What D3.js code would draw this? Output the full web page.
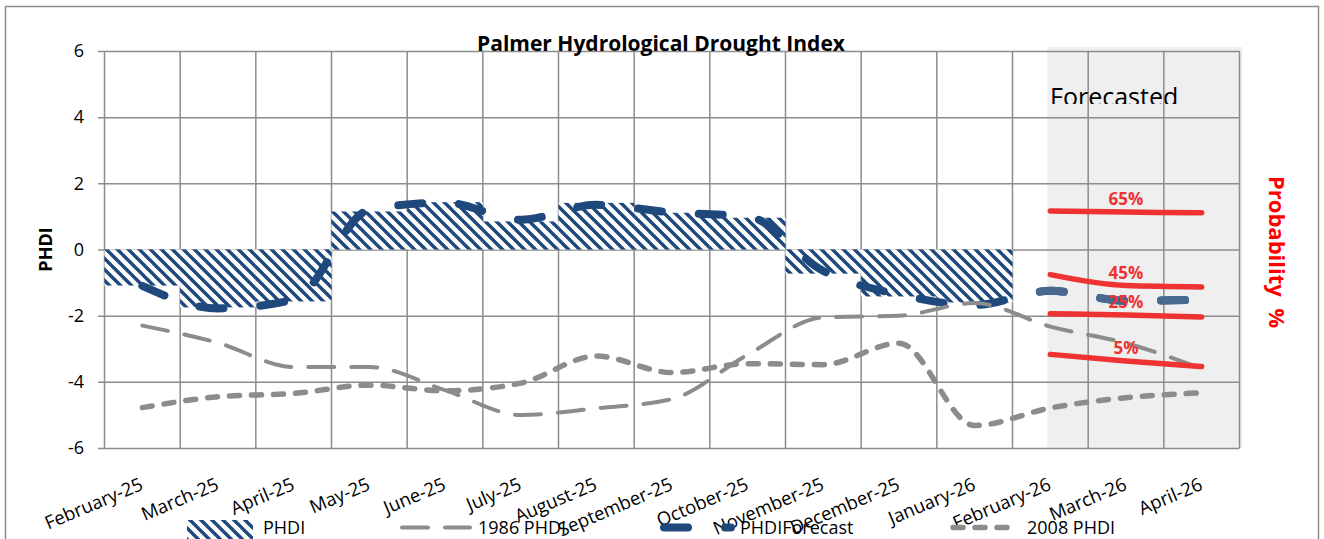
<!DOCTYPE html>
<html>
<head>
<meta charset="utf-8">
<script src="https://cdn.jsdelivr.net/npm/d3@7"></script>
<style>
  body { margin: 0; background: #fff; }
  text { font-family: "Open Sans", "Noto Sans", sans-serif; }
</style>
</head>
<body>
<svg id="chart"></svg>
<script>
var months = ["February-25", "March-25", "April-25", "May-25", "June-25", "July-25", "August-25",
  "September-25", "October-25", "November-25", "December-25", "January-26", "February-26",
  "March-26", "April-26"];

// observed PHDI (bars), no bars for the forecast months
var phdi = [-1.09, -1.75, -1.57, 1.15, 1.43, 0.85, 1.41, 1.11, 0.96, -0.73, -1.42, -1.6, null, null, null];
var phdiForecast = [-1.1, -1.78, -1.52, 1.2, 1.42, 0.9, 1.35, 1.12, 1.0, -0.65, -1.36, -1.68, -1.25, -1.55, -1.52];
var phdi1986 = [-2.3, -2.82, -3.55, -3.55, -4.25, -5.0, -4.8, -4.52, -3.18, -2.05, -2.0, -1.62, -2.33, -2.83, -3.6];
var phdi2008 = [-4.78, -4.45, -4.35, -4.1, -4.27, -4.04, -3.22, -3.72, -3.45, -3.48, -2.83, -5.32, -4.79, -4.48, -4.33];

// probability lines over the forecast months
var forecastMonths = ["February-26", "March-26", "April-26"];
var probLabels = ["65%", "45%", "25%", "5%"];
var prob65 = [1.16, 1.13, 1.11];
var prob45 = [-0.76, -1.09, -1.13];
var prob25 = [-1.94, -1.98, -2.04];
var prob5 = [-3.17, -3.37, -3.54];

var yTicks = [-6, -4, -2, 0, 2, 4, 6];

var svgWidth = 1324;
var svgHeight = 539;

var svg = d3.select("#chart")
  .attr("width", svgWidth)
  .attr("height", svgHeight);

var navy = "#1f497d";
var grey = "#8c8c8c";
var red = "#ef3232";

var x = d3.scaleBand()
  .domain(months)
  .range([104.5, 1239.5])
  .padding(0);

var y = d3.scaleLinear()
  .domain([-6, 6])
  .range([448, 51]);

var cx = d => x(d) + x.bandwidth() / 2;

// hatch pattern for the PHDI bars
var defs = svg.append("defs");
var pat = defs.append("pattern")
  .attr("id", "hatch")
  .attr("patternUnits", "userSpaceOnUse")
  .attr("width", 11)
  .attr("height", 11);
pat.append("rect").attr("width", 11).attr("height", 11).attr("fill", "#fff");
pat.append("path")
  .attr("d", "M-1,-1L12,12M-1,10L1,12M10,-1L12,1")
  .attr("stroke", navy)
  .attr("stroke-width", 3.4);

defs.append("clipPath").attr("id", "fcClip")
  .append("rect")
  .attr("x", x("February-26"))
  .attr("y", 0)
  .attr("width", 400)
  .attr("height", svgHeight);

defs.append("clipPath").attr("id", "titleClip")
  .append("rect")
  .attr("x", 0).attr("y", 0)
  .attr("width", svgWidth).attr("height", 104);

// outer frame
svg.append("rect")
  .attr("x", 5.5).attr("y", 6.5)
  .attr("width", 1313).attr("height", 560)
  .attr("fill", "none")
  .attr("stroke", grey)
  .attr("stroke-width", 1.5);

// forecast shading
svg.append("rect")
  .attr("x", cx("February-26") - 3)
  .attr("y", y(6) - 4)
  .attr("width", x.range()[1] + 3 - (cx("February-26") - 3))
  .attr("height", y(-6) - y(6) + 4)
  .attr("fill", "#efefef");

// horizontal grid + y axis labels
var yAxis = d3.axisLeft(y)
  .tickValues(yTicks)
  .tickFormat(d => String(d))
  .tickSizeInner(-(x.range()[1] - 98))
  .tickSizeOuter(0)
  .tickPadding(14);

var yg = svg.append("g")
  .attr("transform", "translate(98,0)")
  .call(yAxis);
yg.select(".domain").remove();
yg.selectAll("line").attr("stroke", grey).attr("stroke-width", 1.5);
yg.selectAll("text")
  .style("font-size", "18px")
  .attr("fill", "#000");

// vertical grid at category boundaries
var bounds = months.map(m => x(m)).concat([x.range()[1]]);
svg.append("g")
  .selectAll("line")
  .data(bounds)
  .join("line")
  .attr("x1", d => d).attr("x2", d => d)
  .attr("y1", y(6)).attr("y2", y(-6))
  .attr("stroke", grey)
  .attr("stroke-width", 1.5);

// PHDI bars
var barData = months.map((m, i) => ({ m: m, v: phdi[i] })).filter(d => d.v !== null);
svg.append("g")
  .selectAll("rect")
  .data(barData)
  .join("rect")
  .attr("x", d => x(d.m))
  .attr("width", x.bandwidth())
  .attr("y", d => y(Math.max(0, d.v)))
  .attr("height", d => Math.abs(y(d.v) - y(0)))
  .attr("fill", "url(#hatch)");

var line = d3.line()
  .x(d => cx(d.m))
  .y(d => y(d.v))
  .curve(d3.curveMonotoneX);

function series(vals, ms) {
  return (ms || months).map((m, i) => ({ m: m, v: vals[i] }));
}

// PHDIForecast line (darker for history, lighter for the forecast months)
svg.append("path")
  .attr("d", line(series(phdiForecast)))
  .attr("fill", "none")
  .attr("stroke", navy)
  .attr("stroke-width", 8)
  .attr("stroke-linecap", "round")
  .attr("stroke-linejoin", "round")
  .attr("stroke-dasharray", "24 37");
svg.append("path")
  .attr("d", line(series(phdiForecast)))
  .attr("clip-path", "url(#fcClip)")
  .attr("fill", "none")
  .attr("stroke", "#48688f")
  .attr("stroke-width", 8)
  .attr("stroke-linecap", "round")
  .attr("stroke-linejoin", "round")
  .attr("stroke-dasharray", "24 37");

// 1986 PHDI
svg.append("path")
  .attr("d", line(series(phdi1986)))
  .attr("fill", "none")
  .attr("stroke", grey)
  .attr("stroke-width", 4)
  .attr("stroke-linecap", "round")
  .attr("stroke-linejoin", "round")
  .attr("stroke-dasharray", "26 17");

// 2008 PHDI
svg.append("path")
  .attr("d", line(series(phdi2008)))
  .attr("fill", "none")
  .attr("stroke", grey)
  .attr("stroke-width", 5.5)
  .attr("stroke-linecap", "round")
  .attr("stroke-linejoin", "round")
  .attr("stroke-dasharray", "10 12");

// probability lines
var probs = [prob65, prob45, prob25, prob5];
probs.forEach(function(p, k) {
  var s = series(p, forecastMonths);
  svg.append("path")
    .attr("d", line(s))
    .attr("fill", "none")
    .attr("stroke", red)
    .attr("stroke-width", 5.5)
    .attr("stroke-linecap", "round");
  svg.append("text")
    .attr("x", cx(s[1].m))
    .attr("y", y(s[1].v) - 7)
    .attr("text-anchor", "middle")
    .attr("fill", red)
    .style("font-size", "17px")
    .style("font-weight", "bold")
    .text(probLabels[k]);
});

// x axis labels
var xAxis = d3.axisBottom(x).tickSize(0).tickSizeOuter(0);
var xg = svg.append("g")
  .attr("transform", `translate(0, ${y(-6)})`)
  .call(xAxis);
xg.select(".domain").remove();
xg.selectAll(".tick").attr("transform", null);
xg.selectAll(".tick text")
  .attr("y", null).attr("dy", null)
  .attr("text-anchor", "end")
  .attr("transform", d => `translate(${cx(d) + 2}, ${489 - y(-6)}) rotate(-23)`)
  .attr("fill", "#000")
  .style("font-size", "18.5px");

// titles
svg.append("text")
  .attr("x", 661).attr("y", 51)
  .attr("text-anchor", "middle")
  .style("font-size", "21px")
  .style("font-weight", "bold")
  .text("Palmer Hydrological Drought Index");

svg.append("text")
  .attr("transform", `translate(52, ${y(0)}) rotate(-90)`)
  .attr("text-anchor", "middle")
  .style("font-size", "18px")
  .style("font-weight", "bold")
  .text("PHDI");

svg.append("text")
  .attr("transform", "translate(1269, 252) rotate(90)")
  .attr("text-anchor", "middle")
  .attr("fill", "#ff0000")
  .style("font-size", "22px")
  .style("font-weight", "bold")
  .style("white-space", "pre")
  .attr("xml:space", "preserve")
  .text("Probability  %");

svg.append("text")
  .attr("x", 1050).attr("y", 106)
  .attr("clip-path", "url(#titleClip)")
  .style("font-size", "25px")
  .text("Forecasted");

// legend
var lg = svg.append("g");
lg.append("rect")
  .attr("x", 187).attr("y", 520)
  .attr("width", 66).attr("height", 30)
  .attr("fill", "url(#hatch)");
lg.append("line")
  .attr("x1", 402).attr("x2", 470).attr("y1", 527.5).attr("y2", 527.5)
  .attr("stroke", grey).attr("stroke-width", 4)
  .attr("stroke-linecap", "round").attr("stroke-dasharray", "26 17");
lg.append("line")
  .attr("x1", 664).attr("x2", 731).attr("y1", 527.5).attr("y2", 527.5)
  .attr("stroke", navy).attr("stroke-width", 8)
  .attr("stroke-linecap", "round").attr("stroke-dasharray", "24 37");
lg.append("line")
  .attr("x1", 953).attr("x2", 1019).attr("y1", 527.5).attr("y2", 527.5)
  .attr("stroke", grey).attr("stroke-width", 5.5)
  .attr("stroke-linecap", "round").attr("stroke-dasharray", "10 12");

var legendText = [["PHDI", 263], ["1986 PHDI", 478], ["PHDIForecast", 740], ["2008 PHDI", 1027]];
lg.selectAll("text.lt")
  .data(legendText)
  .join("text")
  .attr("class", "lt")
  .attr("x", d => d[1])
  .attr("y", 534)
  .style("font-size", "18px")
  .text(d => d[0]);
</script>
</body>
</html>
